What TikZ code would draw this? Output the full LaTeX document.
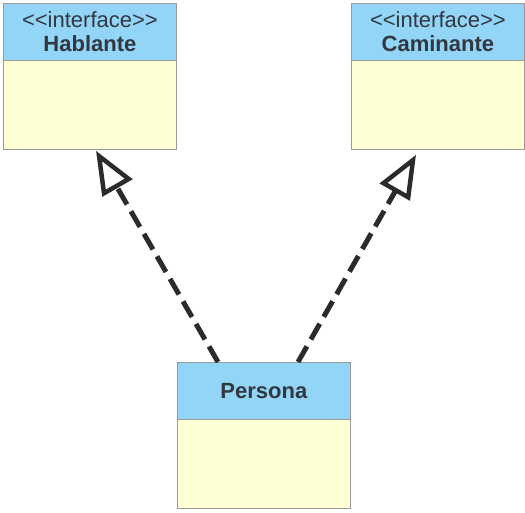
\documentclass[tikz,border=0pt]{standalone}
\usepackage{fontspec}
\setmainfont{Liberation Sans}[Ligatures=TeXOff]
\usetikzlibrary{arrows.meta,calc}
\definecolor{hdr}{HTML}{92D5F7}
\definecolor{bdy}{HTML}{FFFFD6}
\definecolor{edge}{HTML}{9A9A9A}
\definecolor{ink}{HTML}{333840}
\definecolor{lineink}{HTML}{2B2B2E}
\begin{document}
\begin{tikzpicture}[x=1pt,y=-1pt,
  hdrbox/.style={draw=edge,fill=hdr,line width=0.8pt,minimum width=173pt,minimum height=57pt,anchor=north west,inner sep=0pt,text=ink,align=center,font=\fontsize{22}{24}\selectfont},
  bdybox/.style={draw=edge,fill=bdy,line width=0.8pt,minimum width=173pt,minimum height=89pt,anchor=north west,inner sep=0pt},
  realize/.style={draw=lineink,line width=5pt,dash pattern=on 18pt off 8pt,-{Triangle[open,length=43pt,width=34pt,line width=4.5pt]}}]
\useasboundingbox (0,0) rectangle (525,512);
% Hablante
\node[bdybox] (habB) at (3,60) {};
\node[hdrbox] (habH) at (3,3) {<<interface>>\\\textbf{Hablante}};
% Caminante
\node[bdybox] (camB) at (351,60) {};
\node[hdrbox] (camH) at (351,3) {<<interface>>\\\textbf{Caminante}};
% Persona
\node[bdybox] (perB) at (177,419) {};
\node[hdrbox] (perH) at (177,362) {\textbf{Persona}};
% connector end points
\coordinate (s1) at ($(perH.north west)+(41,0)$);
\coordinate (s2) at ($(perH.north west)+(121,0)$);
\coordinate (t1) at ($(habB.south west)+(93,1)$);
\coordinate (t2) at ($(camB.south west)+(65,5)$);
\draw[realize] (s1) -- (t1);
\draw[realize] (s2) -- (t2);
\end{tikzpicture}
\end{document}
